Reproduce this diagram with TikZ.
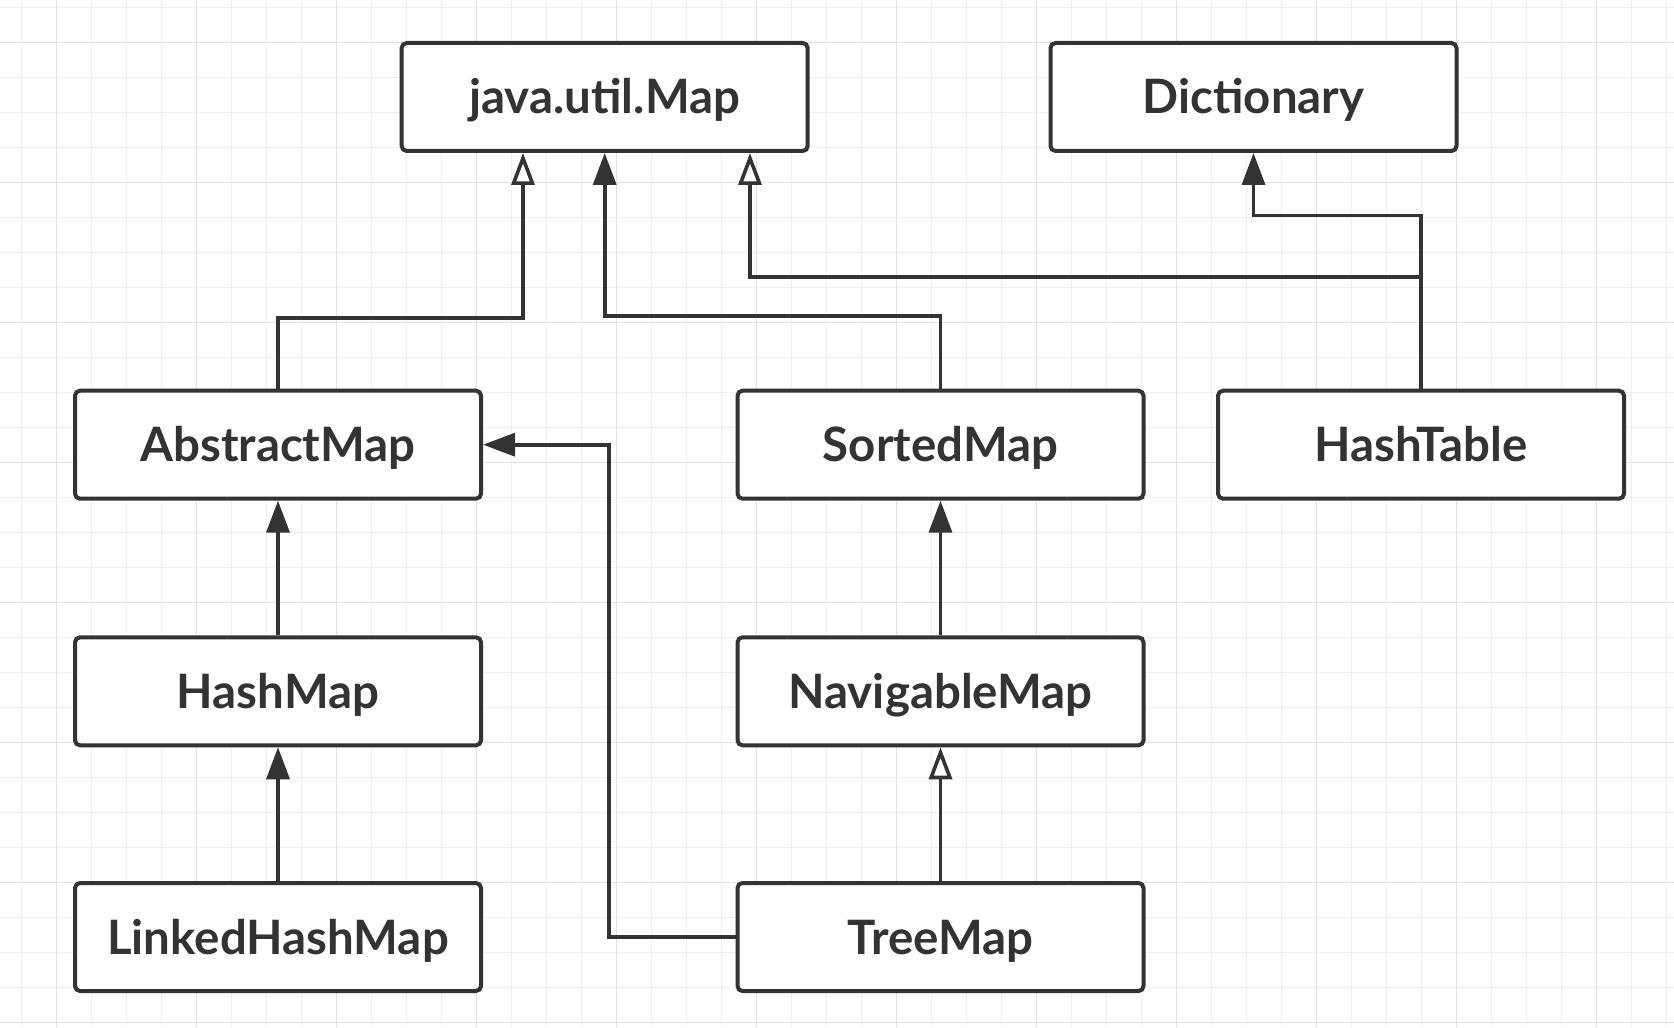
\documentclass[tikz,border=0pt]{standalone}
\usepackage{fontspec}
\setmainfont{Lato}
\usetikzlibrary{arrows.meta}

\definecolor{ink}{HTML}{333333}
\definecolor{gridminor}{HTML}{EFEFEF}
\definecolor{gridmajor}{HTML}{E2E2E2}

\begin{document}
\begin{tikzpicture}[x=0.5pt, y=-0.5pt,
    box/.style={draw=ink, line width=2pt, rounded corners=2.5pt, fill=white,
        minimum width=203pt, minimum height=54pt, inner sep=0pt,
        text height=17pt, text depth=0pt,
        text=ink, font=\fontsize{23.7}{28}\selectfont\bfseries},
    link/.style={draw=ink, line width=1.8pt, -{Triangle[width=11.5pt,length=16pt]}},
    extends/.style={draw=ink, line width=1.8pt, -{Triangle[open,fill=white,width=11.5pt,length=16pt]}}]
    % Background grid
    \fill[white] (0,0) rectangle (1674,1027);
    \useasboundingbox (0,0) rectangle (1674,1027);
    \foreach \i in {0,...,47} \draw[gridminor, line width=0.6pt] (21.3+35*\i,0) -- (21.3+35*\i,1027);
    \foreach \i in {0,...,29} \draw[gridminor, line width=0.6pt] (0,7.3+35*\i) -- (1674,7.3+35*\i);
    \foreach \i in {0,...,11} \draw[gridmajor, line width=0.6pt] (56.3+140*\i,0) -- (56.3+140*\i,1027);
    \foreach \i in {0,...,7} \draw[gridmajor, line width=0.6pt] (0,42.3+140*\i) -- (1674,42.3+140*\i);

    % Classes and interfaces
    \node[box] (map) at (604.7,97) {java.util.Map};
    \node[box] (dict) at (1253.5,97) {Dictionary};
    \node[box] (abstract) at (278,444.7) {AbstractMap};
    \node[box] (sorted) at (940.5,444.7) {SortedMap};
    \node[box] (hashtable) at (1421,444.7) {HashTable};
    \node[box] (hashmap) at (278,691.3) {HashMap};
    \node[box] (navigable) at (940.5,691.3) {NavigableMap};
    \node[box] (linked) at (278,937) {LinkedHashMap};
    \node[box] (treemap) at (940.5,937) {TreeMap};

    % Bends
    \coordinate (bendA) at (523,318);
    \coordinate (bendB) at (604.7,316);
    \coordinate (bendC) at (750,277);
    \coordinate (bendD) at (1421,215.7);
    \coordinate (bendE) at (609,937);

    % Up to java.util.Map and Dictionary
    \draw[extends] (abstract.north) |- (bendA) -- (bendA |- map.south);
    \draw[link] (sorted.north) |- (bendB) -- (map.south);
    \draw[extends] (hashtable.north) |- (bendC) -- (bendC |- map.south);
    \draw[link] (hashtable.north) -- (bendD) -| (dict.south);

    % Lower rows
    \draw[link] (hashmap) -- (abstract);
    \draw[link] (linked) -- (hashmap);
    \draw[link] (navigable) -- (sorted);
    \draw[extends] (treemap) -- (navigable);
    \draw[link] (treemap.west) -- (bendE) |- (abstract.east);
\end{tikzpicture}
\end{document}
